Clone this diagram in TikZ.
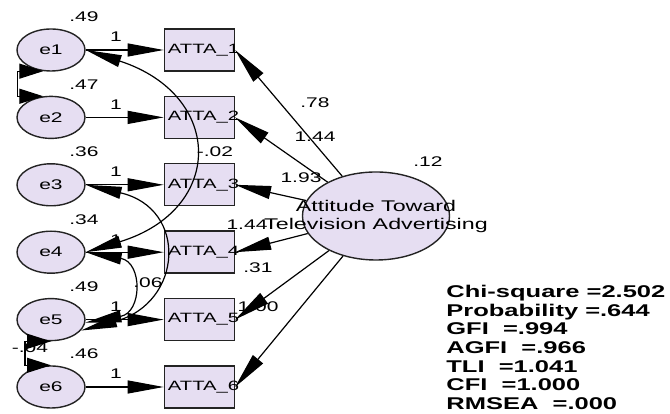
\documentclass[tikz,border=0pt]{standalone}
\usepackage{fontspec}
\setmainfont{Liberation Sans}[FakeStretch=1.5]
\usetikzlibrary{shapes.geometric, arrows.meta, positioning}
\definecolor{amosfill}{RGB}{230,222,242}
\definecolor{amosline}{RGB}{35,35,35}

\begin{document}
\begin{tikzpicture}[x=1pt, y=1pt, thick,
  errvar/.style={ellipse, draw=amosline, line width=1.4pt, fill=amosfill,
    minimum width=68pt, minimum height=42pt, inner sep=0pt, font=\fontsize{14}{16}\selectfont},
  item/.style={rectangle, draw=amosline, line width=1.4pt, fill=amosfill,
    minimum height=42pt, text width=63pt, inner xsep=3.5pt, inner ysep=0pt, align=left,
    font=\fontsize{13.5}{15}\selectfont},
  latent/.style={ellipse, draw=amosline, line width=1.4pt, fill=amosfill,
    minimum width=147pt, minimum height=88pt, inner sep=0pt},
  latname/.style={align=center, inner sep=0pt, font=\fontsize{15.5}{18}\selectfont},
  num/.style={font=\fontsize{14}{16}\selectfont, inner sep=0pt},
  fitstats/.style={align=left, inner sep=0pt, font=\fontsize{17}{18.6}\selectfont\bfseries},
  reg/.style={-{Triangle[length=36pt, width=13pt]}, line width=1.2pt},
  covar/.style={{Triangle[length=36pt, width=12pt]}-{Triangle[length=36pt, width=12pt]}, line width=1.2pt},
  shortcov/.style={{Triangle[length=24pt, width=15pt]}-{Triangle[length=24pt, width=15pt]}, line width=1.2pt}]
  \useasboundingbox (0,0) rectangle (670,414);

  % error terms and indicators
  \node[errvar] (e1) at (51,364) {e1};
  \node[errvar, below=24pt of e1] (e2) {e2};
  \node[errvar, below=24pt of e2] (e3) {e3};
  \node[errvar, below=24pt of e3] (e4) {e4};
  \node[errvar, below=24pt of e4] (e5) {e5};
  \node[errvar, below=24pt of e5] (e6) {e6};
  \foreach \i in {1,...,6}
    \node[item, right=78pt of e\i] (r\i) {ATTA\_\i};

  \node[latent, label={[latname]center:Attitude Toward\\Television Advertising}] (att) at (376,198) {};

  % estimates
  \foreach \i/\v in {1/.49, 2/.47, 3/.36, 4/.34, 5/.49, 6/.46}
    \node[num] (v\i) at ([shift={(33,33)}]e\i.center) {\v};
  \foreach \i in {1,...,6}
    \node[num] (w\i) at ([shift={(65,13)}]e\i.center) {1};
  \node[num] (p1) at (315,311) {.78};
  \node[num] (p2) at (315,277) {1.44};
  \node[num] (p3) at (301,236) {1.93};
  \node[num] (p4) at (247,189) {1.44};
  \node[num] (p5) at (258,146) {.31};
  \node[num] (p6) at (258,107) {1.00};
  \node[num] (attvar) at (428,252) {.12};
  \node[num] (c14) at (215,262) {-.02};
  \node[num] (c35) at (148,131) {.06};
  \node[num] (c56) at (30,66) {-.04};

  % paths
  \foreach \i in {1,...,6} {
    \draw[reg] (e\i) -- (r\i);
    \draw[reg] (att) -- (r\i.east);
  }
  \draw[covar] (e1.east) to[out=-18, in=17, looseness=1.85] (e4.east);
  \draw[covar] (e3.east) to[out=-13, in=15, looseness=1.85] (e5.-20);
  \draw[covar] (e4.east) to[out=-10, in=10, looseness=2.1] (e5.-5);
  \draw[shortcov] (e1.250) -- ++(-26,0) |- (e2.110);
  \draw[shortcov] (e5.south) -- ++(-26,0) |- (e6.north);

  \node[fitstats, anchor=north west] (fit) at (446,129)
    {Chi-square =2.502\\Probability =.644\\GFI\ \ =.994\\AGFI\ \ =.966\\TLI\ \ =1.041\\CFI\ \ =1.000\\RMSEA\ \ =.000};
\end{tikzpicture}
\end{document}
